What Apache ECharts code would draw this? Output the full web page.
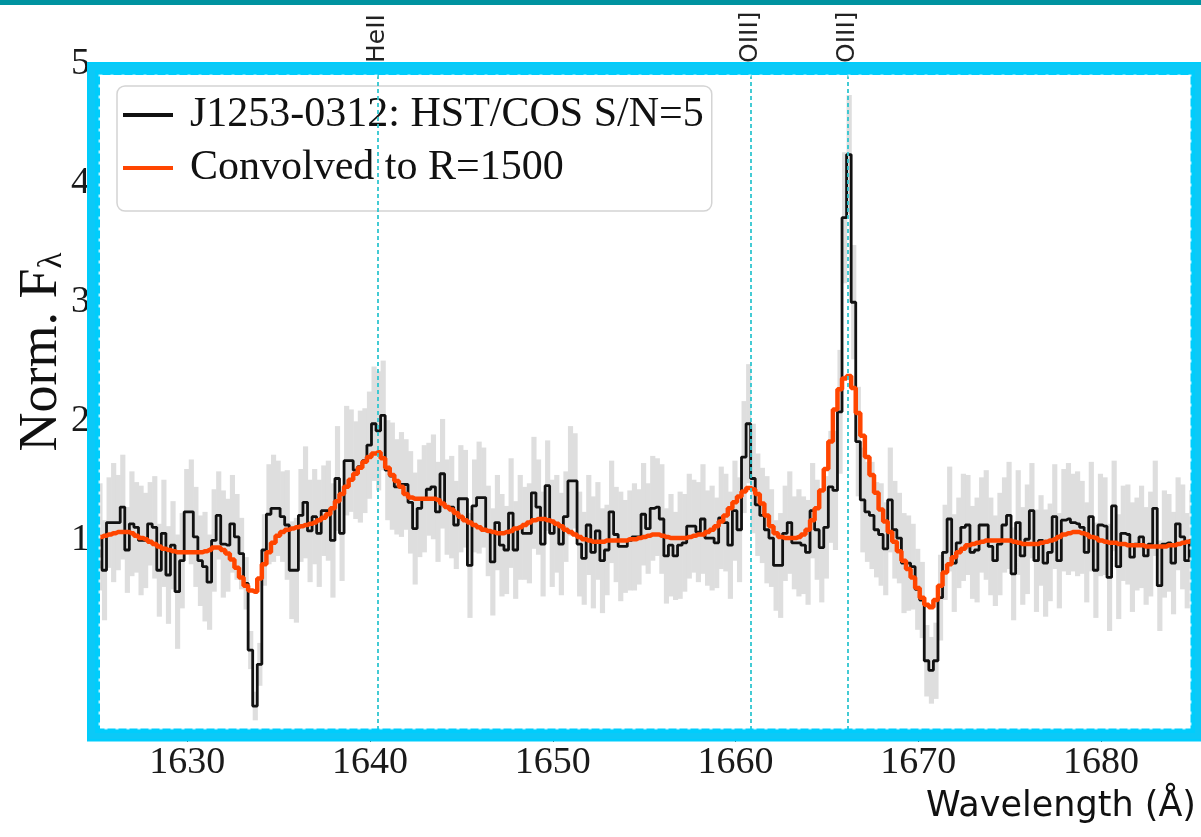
<!DOCTYPE html>
<html>
<head>
<meta charset="utf-8">
<script src="https://cdn.jsdelivr.net/npm/echarts@6/dist/echarts.min.js"></script>
<style>
  html, body { margin: 0; padding: 0; background: #ffffff; }
  #chart { width: 1201px; height: 837px; }
</style>
</head>
<body>
<div id="chart"></div>
<script>
// Spectrum sampling grid (Angstrom)
const wavelengthStart = 1625.2;
const wavelengthStep = 0.25;

// Normalised flux, HST/COS
const flux = [
  1.03, 0.75, 1.15, 1.15, 1.15, 1.28, 0.92, 1.14, 1.11, 1.00,
  1.00, 1.14, 1.11, 0.75, 1.06, 0.71, 0.96, 0.57, 0.83, 1.24,
  1.24, 1.03, 0.83, 0.78, 0.65, 1.00, 1.21, 0.97, 0.96, 1.14,
  1.03, 0.89, 0.64, 0.08, -0.39, -0.04, 0.92, 1.22, 1.27, 1.27,
  1.20, 1.13, 0.75, 0.75, 1.21, 1.32, 1.08, 1.20, 1.06, 1.25,
  1.25, 1.00, 1.52, 1.06, 1.67, 1.67, 1.59, 1.62, 1.67, 1.80,
  1.98, 1.92, 2.05, 1.59, 1.54, 1.45, 1.47, 1.47, 1.32, 1.10,
  1.27, 1.35, 1.43, 1.45, 1.24, 1.56, 1.28, 1.28, 1.13, 1.35,
  1.35, 0.79, 1.29, 1.36, 1.36, 1.08, 0.82, 1.15, 0.96, 0.92,
  1.23, 0.92, 1.11, 1.06, 1.06, 1.40, 1.28, 0.97, 1.46, 1.06,
  1.14, 0.97, 1.20, 1.50, 1.50, 0.97, 0.85, 1.13, 0.90, 1.08,
  0.83, 0.92, 1.24, 1.05, 0.95, 0.95, 1.00, 1.03, 1.03, 1.22,
  1.10, 1.27, 1.28, 1.18, 0.87, 0.96, 0.87, 0.96, 0.98, 1.12,
  1.12, 1.07, 1.18, 1.02, 1.02, 0.98, 1.19, 1.15, 0.96, 1.25,
  1.09, 1.70, 1.98, 1.52, 1.30, 1.21, 1.09, 1.02, 0.79, 0.79,
  1.06, 1.15, 0.98, 0.98, 0.96, 0.90, 1.25, 1.09, 0.94, 1.11,
  1.45, 1.42, 2.08, 3.71, 4.24, 3.00, 1.83, 1.34, 1.24, 1.21,
  1.09, 1.05, 0.93, 1.34, 1.09, 1.02, 0.81, 0.81, 0.78, 0.59,
  0.50, -0.01, -0.09, -0.01, 0.52, 0.90, 1.18, 0.81, 0.98, 1.11,
  1.13, 0.90, 0.92, 1.13, 1.13, 0.95, 0.83, 0.97, 1.13, 1.21,
  0.72, 1.15, 0.87, 1.01, 1.25, 0.83, 1.00, 0.81, 0.90, 1.20,
  0.83, 1.17, 1.18, 1.15, 1.14, 1.11, 0.90, 1.20, 0.75, 1.13,
  1.12, 0.69, 1.29, 0.78, 1.06, 1.05, 0.86, 0.97, 1.03, 0.87,
  0.97, 1.27, 0.62, 0.97, 0.98, 0.81, 1.14, 1.03, 0.83, 1.00
];

// 1-sigma flux uncertainty
const fluxErr = [
  0.45, 0.42, 0.38, 0.50, 0.40, 0.44, 0.36, 0.44, 0.38, 0.46,
  0.40, 0.35, 0.43, 0.39, 0.45, 0.41, 0.37, 0.48, 0.40, 0.36,
  0.44, 0.42, 0.38, 0.46, 0.40, 0.43, 0.37, 0.45, 0.39, 0.41,
  0.36, 0.30, 0.22, 0.16, 0.12, 0.18, 0.30, 0.42, 0.45, 0.40,
  0.38, 0.46, 0.41, 0.44, 0.39, 0.47, 0.43, 0.40, 0.45, 0.38,
  0.42, 0.48, 0.44, 0.40, 0.46, 0.43, 0.41, 0.47, 0.44, 0.45,
  0.48, 0.50, 0.46, 0.42, 0.45, 0.40, 0.44, 0.38, 0.43, 0.47,
  0.41, 0.45, 0.39, 0.44, 0.42, 0.46, 0.40, 0.43, 0.37, 0.45,
  0.41, 0.44, 0.39, 0.47, 0.42, 0.38, 0.45, 0.40, 0.43, 0.37,
  0.46, 0.41, 0.44, 0.39, 0.42, 0.47, 0.40, 0.44, 0.38, 0.45,
  0.41, 0.43, 0.38, 0.46, 0.40, 0.44, 0.39, 0.42, 0.47, 0.41,
  0.44, 0.38, 0.43, 0.40, 0.46, 0.39, 0.42, 0.45, 0.40, 0.43,
  0.38, 0.44, 0.41, 0.46, 0.40, 0.43, 0.37, 0.45, 0.41, 0.44,
  0.39, 0.42, 0.46, 0.40, 0.44, 0.38, 0.43, 0.41, 0.45, 0.42,
  0.44, 0.47, 0.50, 0.46, 0.43, 0.40, 0.45, 0.41, 0.38, 0.44,
  0.40, 0.43, 0.39, 0.45, 0.41, 0.44, 0.40, 0.42, 0.46, 0.43,
  0.47, 0.50, 0.52, 0.55, 0.50, 0.48, 0.46, 0.44, 0.42, 0.45,
  0.40, 0.43, 0.39, 0.44, 0.41, 0.38, 0.42, 0.40, 0.36, 0.34,
  0.32, 0.30, 0.28, 0.32, 0.36, 0.40, 0.44, 0.41, 0.38, 0.45,
  0.42, 0.39, 0.44, 0.40, 0.46, 0.41, 0.38, 0.43, 0.40, 0.45,
  0.39, 0.44, 0.41, 0.46, 0.40, 0.43, 0.38, 0.45, 0.41, 0.44,
  0.40, 0.43, 0.47, 0.41, 0.44, 0.39, 0.42, 0.46, 0.40, 0.43,
  0.41, 0.45, 0.38, 0.44, 0.40, 0.42, 0.46, 0.39, 0.43, 0.41,
  0.44, 0.40, 0.38, 0.45, 0.41, 0.43, 0.39, 0.44, 0.40, 0.42
];

// Flux convolved to R = 1500
const convolved = [
  1.03, 1.04, 1.05, 1.06, 1.07, 1.07, 1.07, 1.06, 1.04, 1.02,
  1.01, 0.99, 0.97, 0.95, 0.93, 0.92, 0.91, 0.90, 0.90, 0.90,
  0.90, 0.90, 0.90, 0.91, 0.92, 0.94, 0.94, 0.92, 0.89, 0.84,
  0.77, 0.69, 0.62, 0.58, 0.57, 0.68, 0.80, 0.90, 0.98, 1.04,
  1.07, 1.09, 1.10, 1.11, 1.12, 1.13, 1.14, 1.15, 1.17, 1.19,
  1.22, 1.27, 1.33, 1.39, 1.45, 1.51, 1.56, 1.61, 1.66, 1.70,
  1.73, 1.74, 1.69, 1.61, 1.55, 1.50, 1.45, 1.39, 1.36, 1.35,
  1.35, 1.35, 1.35, 1.35, 1.34, 1.31, 1.28, 1.26, 1.23, 1.20,
  1.17, 1.15, 1.13, 1.11, 1.09, 1.08, 1.07, 1.06, 1.06, 1.07,
  1.08, 1.10, 1.11, 1.13, 1.15, 1.17, 1.18, 1.18, 1.17, 1.16,
  1.14, 1.12, 1.09, 1.07, 1.05, 1.03, 1.01, 1.00, 0.99, 0.99,
  0.99, 1.00, 1.00, 1.00, 1.00, 1.00, 1.01, 1.01, 1.02, 1.03,
  1.04, 1.05, 1.05, 1.04, 1.03, 1.02, 1.02, 1.02, 1.02, 1.03,
  1.04, 1.05, 1.05, 1.07, 1.09, 1.12, 1.16, 1.21, 1.27, 1.32,
  1.37, 1.41, 1.44, 1.43, 1.39, 1.31, 1.21, 1.12, 1.06, 1.03,
  1.02, 1.02, 1.02, 1.03, 1.05, 1.09, 1.17, 1.27, 1.42, 1.60,
  1.83, 2.10, 2.27, 2.36, 2.38, 2.28, 2.07, 1.88, 1.70, 1.55,
  1.40, 1.26, 1.16, 1.07, 0.99, 0.91, 0.83, 0.76, 0.69, 0.60,
  0.52, 0.46, 0.44, 0.50, 0.62, 0.73, 0.80, 0.86, 0.90, 0.93,
  0.96, 0.97, 0.98, 0.99, 1.00, 1.00, 1.00, 1.00, 1.00, 1.00,
  0.99, 0.98, 0.97, 0.97, 0.97, 0.97, 0.98, 0.99, 1.00, 1.01,
  1.03, 1.05, 1.06, 1.07, 1.07, 1.06, 1.05, 1.03, 1.02, 1.00,
  0.99, 0.98, 0.98, 0.97, 0.97, 0.96, 0.96, 0.96, 0.96, 0.95,
  0.95, 0.95, 0.95, 0.95, 0.96, 0.96, 0.97, 0.98, 0.99, 1.00
];

// Emission line markers (rest wavelengths)
const lineWavelengths = [1640.42, 1660.81, 1666.15];
const lineLabels = ['HeII', 'OIII]', 'OIII]'];

// Axis ticks
const xTickValues = [1630, 1640, 1650, 1660, 1670, 1680];
const yTickValues = [1, 2, 3, 4, 5];

const seriesNames = ['J1253-0312: HST/COS S/N=5', 'Convolved to R=1500'];

// ---- build series data from the arrays ----
const wavelength = flux.map((_, i) => +(wavelengthStart + i * wavelengthStep).toFixed(3));
const fluxData = wavelength.map((w, i) => [w, flux[i]]);
const convolvedData = wavelength.map((w, i) => [w, convolved[i]]);
const bandData = wavelength.map((w, i) => [w, flux[i] - fluxErr[i], flux[i] + fluxErr[i]]);

const SERIF = '"Liberation Serif", "DejaVu Serif", serif';

const chart = echarts.init(document.getElementById('chart'), null, { renderer: 'canvas' });

chart.setOption({
  animation: false,
  backgroundColor: '#ffffff',
  grid: { left: 96, right: 4, top: 64, bottom: 100, containLabel: false },
  xAxis: {
    type: 'value',
    min: 1625,
    max: 1685.25,
    axisLine: { show: true, onZero: false, lineStyle: { color: '#000', width: 1 } },
    axisTick: { show: true, customValues: xTickValues, length: 5, lineStyle: { color: '#555' } },
    axisLabel: {
      customValues: xTickValues,
      formatter: v => String(v),
      fontFamily: SERIF, fontSize: 38, color: '#1a1a1a', margin: 7
    },
    splitLine: { show: false }
  },
  yAxis: {
    type: 'value',
    min: -0.65,
    max: 5,
    axisLine: { show: true, onZero: false, lineStyle: { color: '#000', width: 1 } },
    axisTick: { show: true, customValues: yTickValues, length: 5, lineStyle: { color: '#555' } },
    axisLabel: {
      customValues: yTickValues,
      formatter: v => String(v),
      fontFamily: SERIF, fontSize: 38, color: '#1a1a1a', margin: 6
    },
    splitLine: { show: false }
  },
  legend: {
    orient: 'vertical',
    left: 117,
    top: 86,
    data: [
      { name: seriesNames[0], icon: 'rect' },
      { name: seriesNames[1], icon: 'rect' }
    ],
    itemWidth: 50,
    itemHeight: 4,
    itemGap: 11,
    padding: [8, 8, 22, 6],
    borderColor: '#d4d4d4',
    borderWidth: 1.5,
    borderRadius: 8,
    backgroundColor: 'rgba(255,255,255,0.85)',
    selectedMode: false,
    textStyle: {
      fontFamily: SERIF, fontSize: 42, lineHeight: 42, color: '#111',
      padding: [0, 0, 0, 12]
    }
  },
  series: [
    {
      // uncertainty band, one rect per spectral bin
      type: 'custom',
      name: 'uncertainty',
      silent: true,
      clip: true,
      z: 1,
      data: bandData,
      encode: { x: 0, y: [1, 2] },
      renderItem: function (params, api) {
        const w = api.value(0);
        const topLeft = api.coord([w - wavelengthStep / 2, api.value(2)]);
        const bottomRight = api.coord([w + wavelengthStep / 2, api.value(1)]);
        return {
          type: 'rect',
          shape: {
            x: topLeft[0],
            y: topLeft[1],
            width: bottomRight[0] - topLeft[0] + 0.6,
            height: bottomRight[1] - topLeft[1]
          },
          style: { fill: '#dedede' }
        };
      },
      markLine: {
        silent: true,
        symbol: ['none', 'none'],
        label: { show: false },
        lineStyle: { type: [4, 3], color: '#30c6d0', width: 1.8 },
        data: lineWavelengths.map(w => ({ xAxis: w }))
      }
    },
    {
      type: 'line',
      name: seriesNames[0],
      data: fluxData,
      step: 'middle',
      showSymbol: false,
      clip: true,
      z: 3,
      color: '#111111',
      lineStyle: { color: '#111111', width: 2.8 }
    },
    {
      type: 'line',
      name: seriesNames[1],
      data: convolvedData,
      step: 'middle',
      showSymbol: false,
      clip: true,
      z: 4,
      color: '#ff4500',
      lineStyle: { color: '#ff4500', width: 4.5 }
    }
  ]
});

// ---- annotations: line labels, axis titles, frame ----
const graphics = [];

lineWavelengths.forEach((w, i) => {
  const px = chart.convertToPixel({ xAxisIndex: 0 }, w);
  graphics.push({
    type: 'text',
    x: px,
    y: 63,
    rotation: Math.PI / 2,
    z: 20,
    style: {
      text: lineLabels[i],
      font: '25px "DejaVu Sans", sans-serif',
      fill: '#222222',
      align: 'left',
      verticalAlign: 'middle'
    }
  });
});

// y-axis title with subscript lambda
graphics.push({
  type: 'text',
  x: 38,
  y: 352,
  rotation: Math.PI / 2,
  z: 20,
  style: {
    text: '{n|Norm. F}{s|λ}',
    align: 'center',
    verticalAlign: 'middle',
    fill: '#111111',
    rich: {
      n: { fontFamily: SERIF, fontSize: 54, lineHeight: 62, verticalAlign: 'bottom', fill: '#111111' },
      s: { fontFamily: SERIF, fontSize: 33, lineHeight: 30, verticalAlign: 'bottom', fill: '#111111' }
    }
  }
});

// x-axis title
graphics.push({
  type: 'text',
  x: 1196,
  y: 807,
  z: 20,
  style: {
    text: 'Wavelength (Å)',
    font: '35px "DejaVu Sans", sans-serif',
    fill: '#111111',
    align: 'right',
    verticalAlign: 'middle'
  }
});

// teal strip along the top edge
graphics.push({
  type: 'rect',
  z: 30,
  shape: { x: 0, y: 0, width: 1201, height: 5 },
  style: { fill: '#0093a0' }
});

// hand-drawn highlight frame around the plotting area
graphics.push({
  type: 'rect',
  z: 40,
  silent: true,
  shape: { x: 93.5, y: 68.5, width: 1103.5, height: 666.5 },
  style: { fill: 'none', stroke: '#00cdfc', lineWidth: 13 }
});
graphics.push({
  type: 'rect',
  z: 41,
  silent: true,
  shape: { x: 92, y: 67, width: 1106, height: 669 },
  style: { fill: 'none', stroke: '#14c6f4', lineWidth: 6, opacity: 0.6 }
});
graphics.push({
  type: 'rect',
  z: 42,
  silent: true,
  shape: { x: 99.5, y: 75.5, width: 1091, height: 653 },
  style: { fill: 'none', stroke: '#ffffff', lineWidth: 2, lineDash: [3, 8], opacity: 0.75 }
});

chart.setOption({ graphic: graphics });
</script>
</body>
</html>
